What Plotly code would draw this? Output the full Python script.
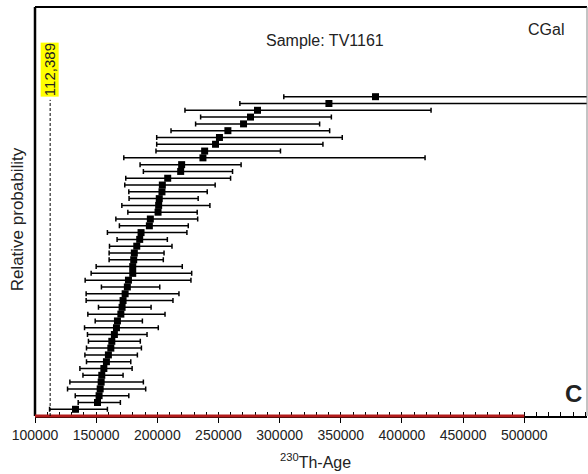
import plotly.graph_objects as go

# ---- data ----
ages = [378400, 340300, 281900, 276200, 270500, 257700, 250800, 247600, 238700, 237300,
        219900, 219100, 208500, 204100, 203800, 201600, 201100, 200600, 194300, 193500,
        186700, 185600, 183200, 181200, 180700, 179900, 179900, 176400, 175500, 173700,
        172000, 171200, 170200, 167400, 166600, 164900, 162800, 162000, 160000, 158400,
        156300, 154600, 154100, 153300, 152400, 151100, 133100]
lower = [303400, 267500, 222600, 235400, 231300, 211200, 199500, 199500, 198900, 172600,
         185900, 188600, 174200, 173400, 176700, 176900, 171000, 175900, 166100, 169000,
         159200, 167100, 160900, 160600, 160600, 150000, 145900, 141000, 154300, 141800,
         141800, 151900, 143200, 149200, 140500, 142900, 143700, 142100, 140800, 142100,
         136700, 139200, 128500, 126600, 132900, 135300, 111900]
upper = [600000, 600000, 423800, 342300, 332700, 340900, 351200, 335400, 300700, 418900,
         268500, 261500, 259900, 247300, 240800, 233400, 243000, 232600, 233000, 225300,
         224200, 208200, 212000, 205500, 204900, 220400, 228100, 227500, 202000, 217700,
         212800, 194900, 206300, 187800, 200800, 191600, 186100, 187000, 183700, 178300,
         179400, 172000, 188600, 190500, 176700, 169800, 159200]
tick_vals = [100000, 150000, 200000, 250000, 300000, 350000, 400000, 450000, 500000]
tick_text = [str(v) for v in tick_vals]
marker_age = 112389
marker_label = "112,389"
sample_label = "Sample: TV1161"
group_label = "CGal"
panel_label = "C"
x_title = "<sup>230</sup>Th-Age"
y_title = "Relative probability"

n = len(ages)
pos = [n - 1 - i for i in range(n)]
err_plus = [u - a for u, a in zip(upper, ages)]
err_minus = [a - l for a, l in zip(ages, lower)]

fig = go.Figure()
fig.add_trace(go.Scatter(
    x=ages, y=pos, mode="markers",
    marker=dict(symbol="square", size=7, color="black"),
    error_x=dict(type="data", symmetric=False, array=err_plus, arrayminus=err_minus,
                 color="black", thickness=1.5, width=2.5),
    showlegend=False, hoverinfo="x",
))

minor_vals = list(range(100000, 560001, 10000))

fig.update_layout(
    width=588, height=474,
    margin=dict(l=35, r=1, t=7, b=58),
    paper_bgcolor="white", plot_bgcolor="white",
    font=dict(family="Liberation Sans, Arial, sans-serif", size=14, color="#222"),
    xaxis=dict(
        range=[100000, 551300], tickmode="array", tickvals=tick_vals, ticktext=tick_text,
        ticks="outside", ticklen=5, tickwidth=1, tickcolor="black",
        showgrid=False, zeroline=False, showline=True, linecolor="black", linewidth=2,
        tickfont=dict(size=14, color="#222"),
        minor=dict(tickmode="array", tickvals=minor_vals, ticks="inside", ticklen=4,
                   tickwidth=1, tickcolor="black", showgrid=False),
    ),
    yaxis=dict(range=[-0.99, 59.2], showticklabels=False, showgrid=False, zeroline=False,
               ticks="", showline=False),
    shapes=[
        dict(type="line", xref="paper", yref="paper", x0=0, x1=1, y0=1, y1=1,
             line=dict(color="black", width=2)),
        dict(type="line", xref="paper", yref="paper", x0=0, x1=0, y0=0, y1=1,
             line=dict(color="black", width=2.5)),
        dict(type="line", xref="paper", yref="paper", x0=1, x1=1, y0=0, y1=1,
             line=dict(color="#888", width=1)),
        dict(type="line", xref="x", yref="paper", x0=100000, x1=500000, y0=0, y1=0,
             line=dict(color="#b31b1b", width=3)),
        dict(type="line", xref="x", yref="paper", x0=marker_age, x1=marker_age, y0=0, y1=0.773,
             line=dict(color="black", width=1, dash="3px,2px")),
    ],
    annotations=[
        dict(text=y_title, textangle=-90, xref="paper", yref="paper",
             x=0, y=0.482, xanchor="right", yanchor="middle", xshift=-6, showarrow=False,
             font=dict(size=17, color="#222")),
        dict(text=x_title, xref="paper", yref="paper", x=0.509, y=-0.110,
             xanchor="center", yanchor="middle", showarrow=False,
             font=dict(size=16, color="#222")),
        dict(text=marker_label, textangle=-90, xref="x", yref="paper", x=marker_age, y=0.846,
             xanchor="center", yanchor="middle", showarrow=False, bgcolor="#ffff00",
             borderpad=0, font=dict(size=15, color="#222")),
        dict(text=sample_label, xref="x", yref="paper", x=337000, y=0.918, xanchor="center",
             yanchor="middle", showarrow=False, font=dict(size=16, color="#222")),
        dict(text=group_label, xref="x", yref="paper", x=518000, y=0.944, xanchor="center",
             yanchor="middle", showarrow=False, font=dict(size=16, color="#222")),
        dict(text="<b>" + panel_label + "</b>", xref="paper", yref="paper", x=0.975, y=0.055,
             xanchor="center", yanchor="middle", showarrow=False,
             font=dict(size=24, color="#222")),
    ],
)

fig.write_html("out.html")
